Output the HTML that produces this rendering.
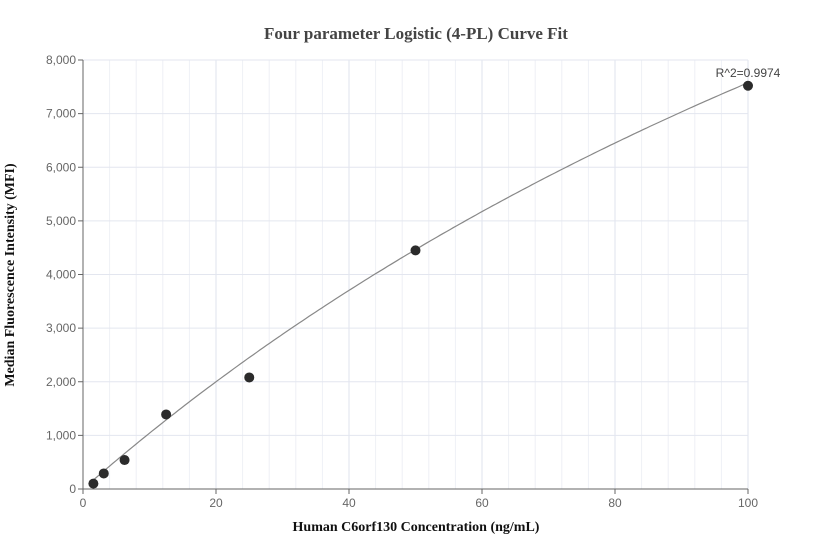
<!DOCTYPE html>
<html><head><meta charset="utf-8"><style>
body{margin:0;background:#fff;}
svg{display:block;font-family:"Liberation Sans",sans-serif;}
</style></head><body>
<svg id="chart" width="832" height="560" xmlns="http://www.w3.org/2000/svg">
<text x="416" y="39" text-anchor="middle" font-family="Liberation Serif" font-weight="bold" font-size="17" fill="#444">Four parameter Logistic (4-PL) Curve Fit</text>
<g id="grid"></g>
<g id="axes"></g>
<path id="curve" fill="none" stroke="#888" stroke-width="1.2"/>
<g id="points"></g>
<text x="748" y="77" text-anchor="middle" font-size="12" fill="#444">R^2=0.9974</text>
<text x="416" y="531" text-anchor="middle" font-family="Liberation Serif" font-weight="bold" font-size="14" fill="#111">Human C6orf130 Concentration (ng/mL)</text>
<text transform="translate(14,275) rotate(-90)" text-anchor="middle" font-family="Liberation Serif" font-weight="bold" font-size="14" fill="#111">Median Fluorescence Intensity (MFI)</text>
</svg>
<script>
const xValues=[1.5625,3.125,6.25,12.5,25,50,100];
const yValues=[100,290,540,1390,2080,4450,7520];
const xTicks=[0,20,40,60,80,100];
const yTicks=[0,1000,2000,3000,4000,5000,6000,7000,8000];
const fitParams=[0,1.0,230,25000]; // a,b,c,d
const NS="http://www.w3.org/2000/svg";
const X0=83,X1=748,Y0=489,Y1=60;
const sx=v=>X0+(v-0)/(100-0)*(X1-X0);
const sy=v=>Y0-(v-0)/(8000-0)*(Y0-Y1);
function mk(t,a,p){const e=document.createElementNS(NS,t);for(const k in a)e.setAttribute(k,a[k]);p.appendChild(e);return e;}
const grid=document.getElementById('grid'),axes=document.getElementById('axes'),pts=document.getElementById('points');
for(let v=0;v<=100;v+=4){
  if(v===0)continue;
  const l=mk('line',{x1:sx(v),x2:sx(v),y1:Y1,y2:Y0,stroke:v%20===0?'#dfe3ee':'#eef0f6','stroke-width':1},grid);
  
  
}
yTicks.forEach(v=>{
  if(v===0)return;
  const l=mk('line',{x1:X0,x2:X1,y1:sy(v),y2:sy(v),stroke:'#e3e6ef','stroke-width':1},grid);
  
  
});
let a=mk('line',{x1:X0,x2:X0,y1:Y1,y2:Y0,stroke:'#666'},axes);


a=mk('line',{x1:X0,x2:X1,y1:Y0,y2:Y0,stroke:'#666'},axes);


yTicks.forEach(v=>{
  const t=mk('line',{x1:X0-5,x2:X0,y1:sy(v),y2:sy(v),stroke:'#666'},axes);
  
  
  const tx=mk('text',{x:X0-7,y:sy(v)+4,'text-anchor':'end','font-size':12,fill:'#666'},axes);
  tx.textContent=v.toLocaleString('en-US');
  
  
});
xTicks.forEach(v=>{
  const t=mk('line',{x1:sx(v),x2:sx(v),y1:Y0,y2:Y0+5,stroke:'#666'},axes);
  
  
  const tx=mk('text',{x:sx(v),y:Y0+18,'text-anchor':'middle','font-size':12,fill:'#666'},axes);
  tx.textContent=v;
  
  
});
const f=x=>{const[a,b,c,d]=fitParams;return d+(a-d)/(1+Math.pow(x/c,b));};
let dstr='';
for(let i=0;i<=200;i++){const x=1.5+(100-1.5)*i/200;dstr+=(i?'L':'M')+sx(x).toFixed(1)+','+sy(f(x)).toFixed(1);}
document.getElementById('curve').setAttribute('d',dstr);
xValues.forEach((x,i)=>{
  const c=mk('circle',{cx:sx(x),cy:sy(yValues[i]),r:5,fill:'#2b2b2b'},pts);
  
  
});
</script>
</body></html>
